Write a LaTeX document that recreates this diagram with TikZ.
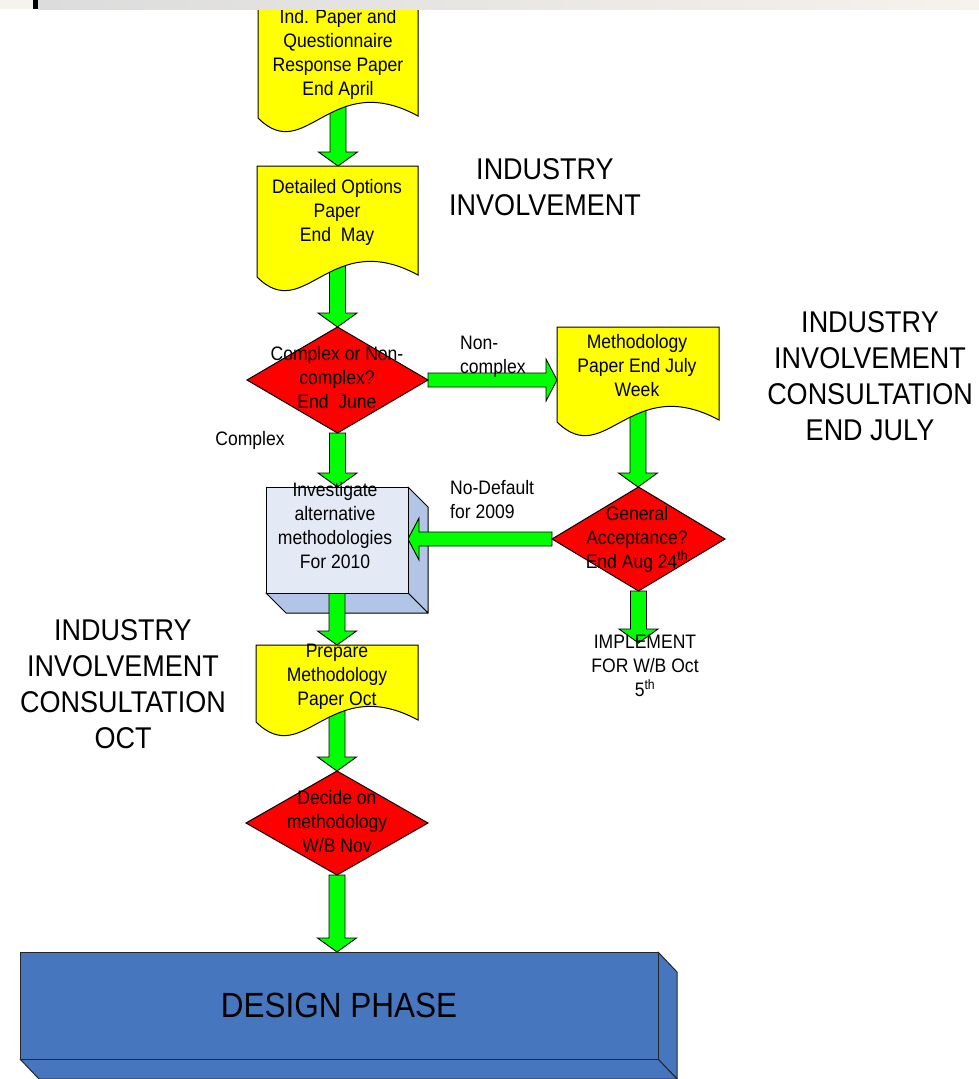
\documentclass[tikz,border=0pt]{standalone}
\usepackage{fontspec}
\setmainfont[FakeStretch=0.9]{Liberation Sans}
\usetikzlibrary{shapes.geometric,calc}
\pgfdeclarelayer{back}
\pgfdeclarelayer{arr}
\pgfsetlayers{back,arr,main}
\definecolor{docyellow}{HTML}{FFFF00}
\definecolor{decred}{HTML}{FF0000}
\definecolor{argreen}{HTML}{00FF00}
\definecolor{boxfrontc}{HTML}{E4EAF5}
\definecolor{boxsidec}{HTML}{B2C5E6}
\definecolor{designc}{HTML}{4677BE}
\definecolor{bandgray}{HTML}{DCDCDC}
\definecolor{bandcream}{HTML}{F6F2EC}
\newcommand\smallfs{\fontsize{19.5}{24}\selectfont}
\newcommand\bigfs{\fontsize{30}{36}\selectfont}
\newcommand\designfs{\fontsize{35}{40}\selectfont}
% vertical block arrow: from #1 down to tip #2
\newcommand\varrow[2]{%
  \path[garrow] let \p1=#1, \p2=#2 in
   (\x1-8pt,\y1) -- (\x1+8pt,\y1) -- (\x1+8pt,\y2+14pt) -- (\x1+19.5pt,\y2+14pt)
   -- (\x1,\y2) -- (\x1-19.5pt,\y2+14pt) -- (\x1-8pt,\y2+14pt) -- cycle;}
% horizontal block arrow to the right
\newcommand\rarrow[2]{%
  \path[garrow] let \p1=#1, \p2=#2 in
   (\x1,\y1+7pt) -- (\x2-11pt,\y1+7pt) -- (\x2-11pt,\y1+21pt) -- (\x2,\y1)
   -- (\x2-11pt,\y1-21pt) -- (\x2-11pt,\y1-7pt) -- (\x1,\y1-7pt) -- cycle;}
% horizontal block arrow to the left
\newcommand\larrow[2]{%
  \path[garrow] let \p1=#1, \p2=#2 in
   (\x1,\y1+7pt) -- (\x2+11pt,\y1+7pt) -- (\x2+11pt,\y1+21pt) -- (\x2,\y1)
   -- (\x2+11pt,\y1-21pt) -- (\x2+11pt,\y1-7pt) -- (\x1,\y1-7pt) -- cycle;}
% document shape with wavy bottom drawn on a named rectangle node
\newcommand\docwave[1]{%
  \path[docfill] let \p1=(#1.south west), \p2=(#1.north east) in
   (\x1,\y1) -- (\x1,\y2) -- (\x2,\y2) -- (\x2,\y1+2pt)
   .. controls ({\x1+0.45*(\x2-\x1)},{\y1+50pt}) and ({\x1+0.3*(\x2-\x1)},{\y1-48pt}) .. (\x1,\y1) -- cycle;}
\tikzset{
  docbox/.style={rectangle, inner sep=0pt, outer sep=0pt},
  docfill/.style={fill=docyellow, draw=black, line width=1pt},
  decision/.style={diamond, fill=decred, draw=black, line width=1pt, inner sep=0pt, outer sep=0pt},
  garrow/.style={fill=argreen, draw=black, line width=0.9pt, line join=miter},
  boxfront/.style={rectangle, fill=boxfrontc, draw=black, line width=1pt, inner sep=0pt, outer sep=0pt},
  boxside/.style={fill=boxsidec, draw=black, line width=1pt, line join=round},
  designbox/.style={rectangle, fill=designc, draw=black!85, line width=1pt, inner sep=0pt, outer sep=0pt, font=\designfs},
  designside/.style={fill=designc, draw=black!85, line width=1pt, line join=round},
  lbl/.style={align=center, inner sep=0pt, font=\smallfs},
  lbll/.style={align=left, inner sep=0pt, font=\smallfs, anchor=west},
  biglbl/.style={align=center, inner sep=0pt, font=\bigfs},
}
\begin{document}
\begin{tikzpicture}[x=1pt,y=-1pt]
\useasboundingbox (0,0) rectangle (979,1079);
\begin{pgfonlayer}{back}
  \fill[white] (0,0) rectangle (979,1079);
\end{pgfonlayer}

% ---------- shapes ----------
\node[docbox, minimum width=160, minimum height=128] (d1) at (338,54) {};
\docwave{d1}
\node[docbox, minimum width=161, minimum height=111] (d2) at (337.5,221.5) {};
\docwave{d2}
\node[decision, minimum width=181, minimum height=106] (dia1) at (337.5,380) {};
\node[docbox, minimum width=162, minimum height=95] (d3) at (638,374.5) {};
\docwave{d3}
\node[decision, minimum width=173, minimum height=104] (dia2) at (638.5,539) {};
\node[boxfront, minimum width=142, minimum height=106] (box) at (337,540) {};
\begin{pgfonlayer}{back}
  \draw[boxside] (box.north east) -- ++(20,20) -- ($(box.south east)+(20,20)$) -- (box.south east) -- cycle;
  \draw[boxside] (box.south west) -- ($(box.south west)+(20,20)$) -- ($(box.south east)+(20,20)$) -- (box.south east) -- cycle;
\end{pgfonlayer}
\node[docbox, minimum width=162, minimum height=77] (d4) at (337,683.5) {};
\docwave{d4}
\node[decision, minimum width=182, minimum height=104] (dia3) at (337,823) {};
\node[designbox, minimum width=638, minimum height=107] (design) at (339,1005.5) {DESIGN PHASE};
\begin{pgfonlayer}{back}
  \draw[designside] (design.north east) -- ++(19,20) -- ($(design.south east)+(19,20)$) -- (design.south east) -- cycle;
  \draw[designside] (design.south west) -- ($(design.south west)+(19,20)$) -- ($(design.south east)+(19,20)$) -- (design.south east) -- cycle;
\end{pgfonlayer}
\coordinate (implpt) at (639,643);

% ---------- connectors ----------
\begin{pgfonlayer}{arr}
  \varrow{($(d1.south)+(0,-14)$)}{(d2.north)}
  \varrow{($(d2.south)+(0,-14)$)}{(dia1.north)}
  \varrow{(dia1.south)}{(box.north)}
  \varrow{(box.south)}{(d4.north)}
  \varrow{($(d4.south)+(0,-14)$)}{(dia3.north)}
  \varrow{(dia3.south)}{(design.north)}
  \varrow{($(d3.south)+(0,-14)$)}{(dia2.north)}
  \varrow{(dia2.south)}{(implpt)}
  \rarrow{(dia1.east)}{(d3.west)}
  \larrow{(dia2.west)}{(box.east)}
\end{pgfonlayer}

% ---------- texts ----------
\node[lbl] (d1t) at (338,54) {Ind. Paper and\\Questionnaire\\Response Paper\\End April};
\node[lbl] (d2t) at (337,212) {Detailed Options\\Paper\\End~~May};
\node[lbl] (dia1t) at (337,378) {Complex or Non-\\complex?\\End~~June};
\node[lbl] (d3t) at (637,366) {Methodology\\Paper End July\\Week};
\node[lbl] (dia2t) at (637,539) {General\\Acceptance?\\End Aug 24\textsuperscript{th}};
\node[lbl] (boxt) at (335,526) {Investigate\\alternative\\methodologies\\For 2010};
\node[lbl] (d4t) at (337,677) {Prepare\\Methodology\\Paper Oct};
\node[lbl] (dia3t) at (337,822) {Decide on\\methodology\\W/B Nov};
\node[lbl] (impl) at (645,666) {IMPLEMENT\\FOR W/B Oct\\5\textsuperscript{th}};
\node[lbll] (lnon) at (460,357) {Non-\\complex};
\node[lbll] (lnod) at (450,500) {No-Default\\for 2009};
\node[lbl] (lcom) at (250,440) {Complex};
\node[biglbl] (ind1) at (545,187) {INDUSTRY\\INVOLVEMENT};
\node[biglbl] (ind2) at (870,376) {INDUSTRY\\INVOLVEMENT\\CONSULTATION\\END JULY};
\node[biglbl] (ind3) at (123,684) {INDUSTRY\\INVOLVEMENT\\CONSULTATION\\OCT};

% ---------- top band (cut-off slide header) ----------
\fill[bandcream] (0,0) rectangle (33,9);
\shade[left color=bandgray, right color=bandcream] (38,0) rectangle (979,9);
\fill[black] (33,0) rectangle (38,9);
\end{tikzpicture}
\end{document}
